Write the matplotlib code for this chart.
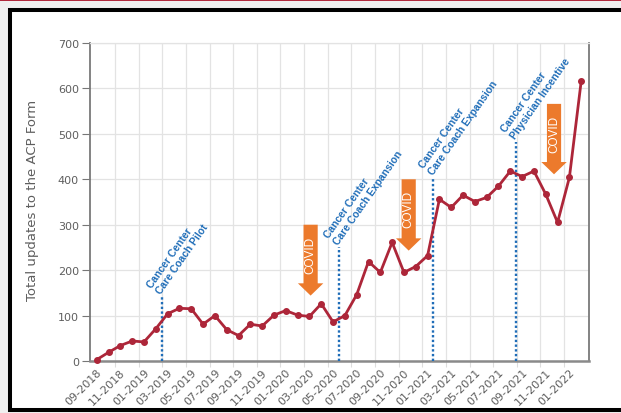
import matplotlib
matplotlib.use("Agg")
import matplotlib.pyplot as plt
from matplotlib.patches import Rectangle, FancyArrow

# ---- data ----
months = ["09-2018", "10-2018", "11-2018", "12-2018", "01-2019", "02-2019", "03-2019",
          "04-2019", "05-2019", "06-2019", "07-2019", "08-2019", "09-2019", "10-2019",
          "11-2019", "12-2019", "01-2020", "02-2020", "03-2020", "04-2020", "05-2020",
          "06-2020", "07-2020", "08-2020", "09-2020", "10-2020", "11-2020", "12-2020",
          "01-2021", "02-2021", "03-2021", "04-2021", "05-2021", "06-2021", "07-2021",
          "08-2021", "09-2021", "10-2021", "11-2021", "12-2021", "01-2022", "02-2022"]
updates = [3, 19, 34, 44, 42, 71, 104, 116, 115, 81, 100, 69, 56, 81, 77, 101, 111,
           101, 98, 126, 86, 100, 146, 219, 195, 261, 195, 208, 232, 356, 338, 365,
           351, 360, 385, 418, 406, 418, 367, 305, 404, 616]

# milestone annotations (position in months from 09-2018, top of dotted line)
milestone_pos = [5.5, 20.5, 28.5, 35.5]
milestone_top = [140, 250, 404, 482]
milestone_text = ["Cancer Center\nCare Coach Pilot",
                  "Cancer Center\nCare Coach Expansion",
                  "Cancer Center\nCare Coach Expansion",
                  "Cancer Center\nPhysician Incentive"]

# COVID arrows (position, shaft top, tip)
covid_pos = [18.1, 26.4, 38.7]
covid_top = [300, 400, 566]
covid_tip = [144, 243, 411]

yticks = [0, 100, 200, 300, 400, 500, 600, 700]

LINE = "#ad2639"
BLUE = "#1f6db8"
ORANGE = "#ec7a2c"
GRAY = "#5e5e5e"

W, H = 621, 414
fig = plt.figure(figsize=(W / 100, H / 100), dpi=100)
fig.patch.set_facecolor("#efefef")

# frame
fig.add_artist(Rectangle((10 / W, 3 / H), 640 / W, 400 / H, transform=fig.transFigure,
                         facecolor="white", edgecolor="black", lw=2.9, zorder=0))
fig.add_artist(Rectangle((0, 1 - 2 / H), 1, 2 / H, transform=fig.transFigure,
                         facecolor="#b0283c", edgecolor="none", zorder=0))

ax = fig.add_axes([90 / W, 52 / H, (589 - 90) / W, (362 - 44) / H])
ax.set_facecolor("white")

x = list(range(len(updates)))
ax.plot(x, updates, color=LINE, lw=2.0, marker="o", ms=4, zorder=5, clip_on=False)

ax.set_xlim(-0.57, 41.66)
ax.set_ylim(0, 700)

# x ticks: grid ticks (major) and labels (minor)
grid_x = [1.55 + 2 * k for k in range(20)]
ax.set_xticks(grid_x)
ax.set_xticklabels([])
ax.set_xticks(x[::2], minor=True)
ax.set_xticklabels(months[::2], minor=True, rotation=45, ha="right", va="top",
                   rotation_mode="anchor", fontsize=8, color=GRAY)
ax.tick_params(axis="x", which="major", length=4, color="#dddddd")
ax.tick_params(axis="x", which="minor", length=0, pad=4)
ax.set_yticks(yticks)
ax.set_yticklabels([str(v) for v in yticks], fontsize=8, color=GRAY)
ax.tick_params(axis="y", length=6, color="#777777", pad=2)

ax.grid(True, which="major", color="#e3e3e3", lw=0.9)
ax.set_axisbelow(True)
for s in ["left", "right"]:
    ax.spines[s].set_color("#7a7a7a")
    ax.spines[s].set_linewidth(1.3)
ax.spines["bottom"].set_color("#8a8a8a")
ax.spines["bottom"].set_linewidth(1.8)
ax.spines["top"].set_color("#e3e3e3")
ax.spines["top"].set_linewidth(0.9)

fig.text(33 / W, 1 - 200 / H, "Total updates to the ACP Form", rotation=90,
         ha="center", va="center", fontsize=9.5, color=GRAY)

# milestones
for p, t, txt in zip(milestone_pos, milestone_top, milestone_text):
    ax.plot([p, p], [0, t], color=BLUE, lw=1.7, linestyle=(0, (1, 1)), zorder=4)
    ax.text(p + 0.1, t + 4, txt, rotation=55, rotation_mode="anchor", ha="left",
            va="bottom", fontsize=7.4, fontweight="bold", color=BLUE,
            family="Liberation Sans", linespacing=1.2)

# COVID arrows
for p, top, tip in zip(covid_pos, covid_top, covid_tip):
    arr = FancyArrow(p, top, 0, tip - top, width=1.2, head_width=2.15,
                     head_length=27, length_includes_head=True, color=ORANGE, lw=0,
                     zorder=6)
    ax.add_patch(arr)
    shaft_mid = (top + tip + 27) / 2
    ax.text(p, shaft_mid, "COVID", rotation=90, ha="center", va="center",
            fontsize=8.5, color="white", family="Liberation Sans", zorder=7)

fig.savefig("out.png", dpi=100, facecolor=fig.get_facecolor())
